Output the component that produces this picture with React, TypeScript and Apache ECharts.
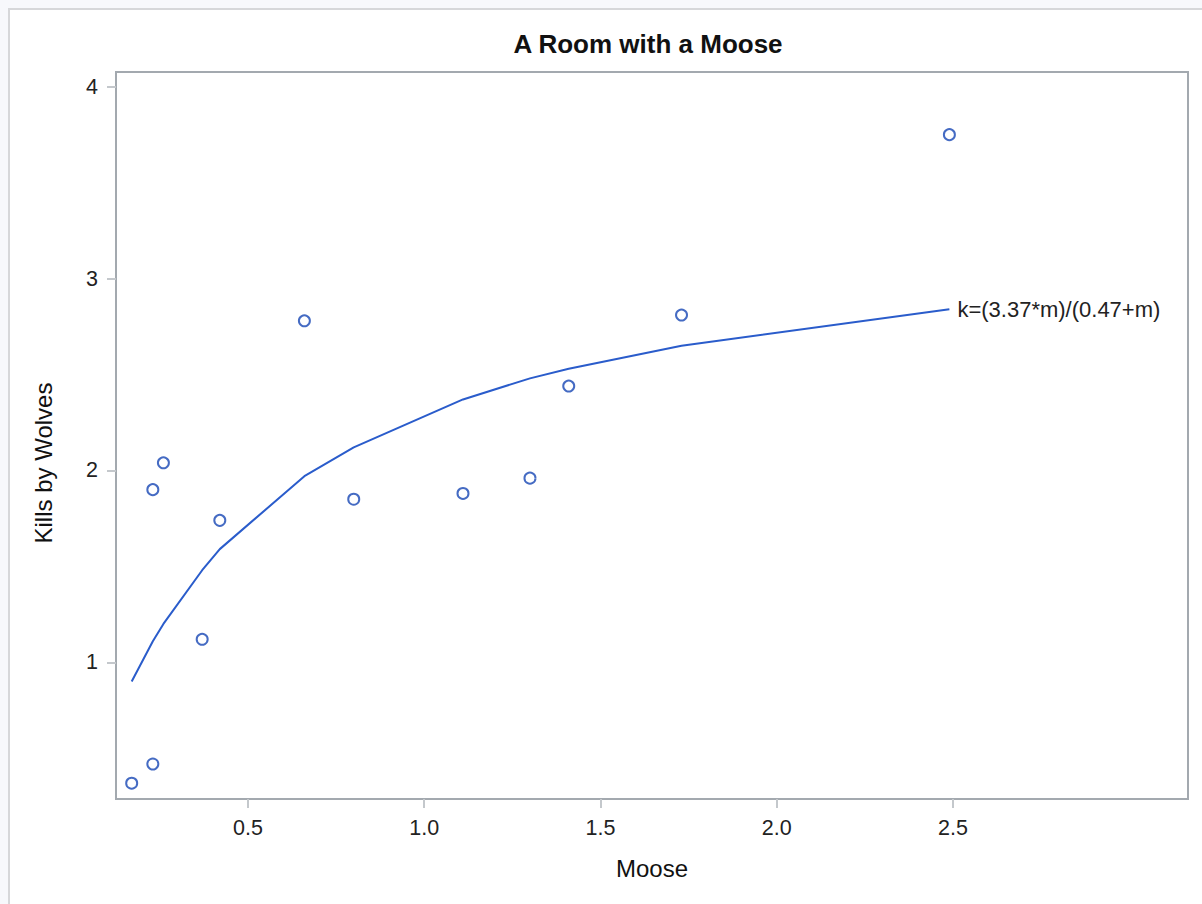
import React, { useEffect, useRef } from "react";
import * as echarts from "echarts";

// Observed data (moose density vs. kills by wolves)
const moose = [0.17, 0.23, 0.23, 0.26, 0.37, 0.42, 0.66, 0.8, 1.11, 1.3, 1.41, 1.73, 2.49];
const kills = [0.37, 0.47, 1.9, 2.04, 1.12, 1.74, 2.78, 1.85, 1.88, 1.96, 2.44, 2.81, 3.75];

// Fitted curve values (at each distinct moose value)
const fitMoose = [0.17, 0.23, 0.26, 0.37, 0.42, 0.66, 0.8, 1.11, 1.3, 1.41, 1.73, 2.49];
const fitKills = [0.9, 1.11, 1.2, 1.48, 1.59, 1.97, 2.12, 2.37, 2.48, 2.53, 2.65, 2.84];

const xTicks = [0.5, 1.0, 1.5, 2.0, 2.5];
const yTicks = [1, 2, 3, 4];

const titleText = "A Room with a Moose";
const xName = "Moose";
const yName = "Kills by Wolves";
const curveLabel = "k=(3.37*m)/(0.47+m)";

const FONT = "'Liberation Sans', Arial, Helvetica, sans-serif";

export default function App() {
  const ref = useRef<HTMLDivElement>(null);

  useEffect(() => {
    document.body.style.background = "#f7f8fc";
    document.body.style.overflow = "hidden";
    if (!ref.current) return;
    const chart = echarts.init(ref.current, null, { renderer: "svg" });

    const scatterData = moose.map((m, i) => [m, kills[i]]);
    const fitData = fitMoose.map((m, i) => [m, fitKills[i]]);

    chart.setOption({
      animation: false,
      backgroundColor: "#ffffff",
      textStyle: { fontFamily: FONT },
      grid: {
        left: 106,
        right: 14,
        top: 62,
        bottom: 105,
        show: true,
        borderColor: "#a3a9af",
        borderWidth: 2,
        backgroundColor: "transparent",
      },
      graphic: [
        {
          type: "text",
          x: 638,
          y: 34,
          style: {
            text: titleText,
            font: `bold 26px ${FONT}`,
            fill: "#111111",
            textAlign: "center",
            textVerticalAlign: "middle",
          },
        },
        {
          type: "text",
          x: 642,
          y: 858,
          style: {
            text: xName,
            font: `24px ${FONT}`,
            fill: "#111111",
            textAlign: "center",
            textVerticalAlign: "middle",
          },
        },
        {
          type: "text",
          x: 33,
          y: 453,
          rotation: Math.PI / 2,
          style: {
            text: yName,
            font: `24px ${FONT}`,
            fill: "#111111",
            textAlign: "center",
            textVerticalAlign: "middle",
          },
        },
      ],
      xAxis: {
        type: "value",
        min: 0.1255,
        max: 3.167,
        splitLine: { show: false },
        axisLine: { show: true, onZero: false, lineStyle: { color: "#a3a9af", width: 2 } },
        axisTick: {
          show: true,
          length: 9,
          customValues: xTicks,
          lineStyle: { color: "#c4c8cc", width: 2 },
        },
        axisLabel: {
          customValues: xTicks,
          formatter: (v: number) => v.toFixed(1),
          fontSize: 21.5,
          color: "#222222",
          margin: 18,
          fontFamily: FONT,
        },
      },
      yAxis: {
        type: "value",
        min: 0.2877,
        max: 4.0766,
        splitLine: { show: false },
        axisLine: { show: true, onZero: false, lineStyle: { color: "#a3a9af", width: 2 } },
        axisTick: {
          show: true,
          length: 9,
          customValues: yTicks,
          lineStyle: { color: "#c4c8cc", width: 2 },
        },
        axisLabel: {
          customValues: yTicks,
          formatter: (v: number) => String(Math.round(v)),
          fontSize: 21.5,
          color: "#222222",
          margin: 18,
          fontFamily: FONT,
        },
      },
      series: [
        {
          type: "line",
          data: fitData,
          showSymbol: false,
          symbol: "none",
          lineStyle: { color: "#2a5ccb", width: 2 },
          itemStyle: { color: "#2a5ccb" },
          z: 2,
          endLabel: {
            show: true,
            formatter: curveLabel,
            distance: 8,
            fontSize: 22,
            color: "#222222",
            fontFamily: FONT,
          },
        },
        {
          type: "scatter",
          data: scatterData,
          symbol: "circle",
          symbolSize: 11,
          itemStyle: { color: "#ffffff", borderColor: "#1646b4", borderWidth: 2 },
          z: 3,
        },
      ],
    });

    return () => chart.dispose();
  }, []);

  return (
    <div
      style={{
        position: "absolute",
        left: 8,
        top: 8,
        width: 1192,
        height: 894,
        borderLeft: "2px solid #d6d7da",
        borderTop: "2px solid #d6d7da",
        background: "#ffffff",
      }}
    >
      <div ref={ref} style={{ width: 1192, height: 894 }} />
    </div>
  );
}
